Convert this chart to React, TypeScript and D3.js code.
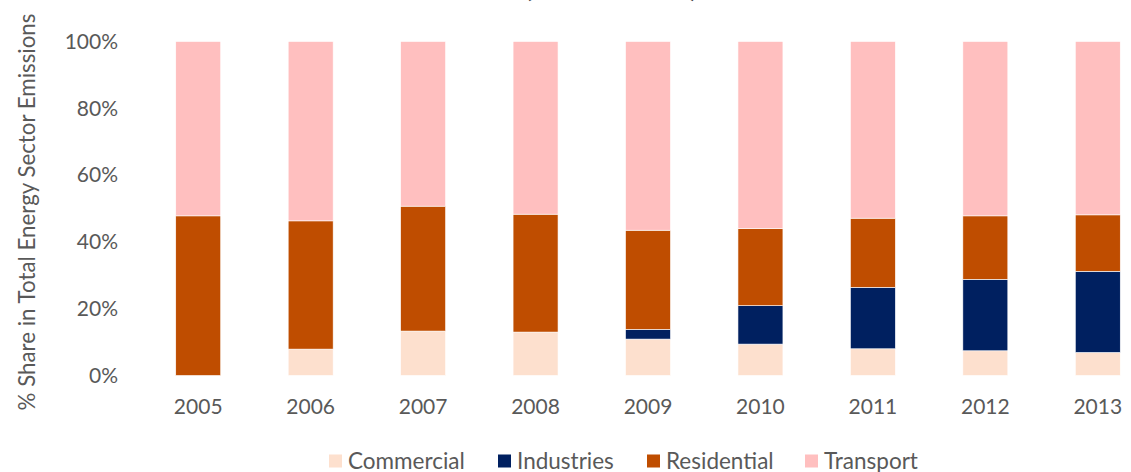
import * as d3 from "d3";
import {useEffect, useRef} from "react";

const years = ["2005", "2006", "2007", "2008", "2009", "2010", "2011", "2012", "2013"];
const sectors = ["Commercial", "Industries", "Residential", "Transport"];
const commercial = [0, 7.9, 13.3, 13.0, 10.9, 9.4, 8.0, 7.4, 6.9];
const industries = [0, 0, 0, 0, 2.9, 11.5, 18.4, 21.4, 24.3];
const residential = [47.8, 38.4, 37.4, 35.3, 29.7, 23.1, 20.7, 19.0, 16.9];
const transport = [52.2, 53.7, 49.3, 51.7, 56.5, 56.0, 52.9, 52.2, 51.9];
const yTicks = [0, 20, 40, 60, 80, 100];
const colors = ["#FDE0CE", "#002060", "#BF4D00", "#FFBFBF"];

const W = 1131, H = 472;
const font = "Lato, 'Open Sans', sans-serif";

export default function App() {
    const ref = useRef(null);

    useEffect(() => {
        const svg = d3.select(ref.current);
        svg.selectAll("*").remove();

        // build rows for stacking
        const rows = years.map((y, i) => ({
            year: y,
            Commercial: commercial[i],
            Industries: industries[i],
            Residential: residential[i],
            Transport: transport[i],
        }));
        const stack = d3.stack().keys(sectors)(rows);

        const x = d3.scaleBand().domain(years).range([142, 1154]).paddingInner(0.6).paddingOuter(0.3);
        const y = d3.scaleLinear().domain([0, 100]).range([375.5, 41.5]);
        const color = d3.scaleOrdinal().domain(sectors).range(colors);

        // title, cut off by the top edge like in the source
        svg.append("text")
            .attr("x", 611).attr("y", -3)
            .attr("text-anchor", "middle")
            .attr("font-family", font).attr("font-weight", "bold").attr("font-size", 26)
            .attr("fill", "#404040")
            .text("(2005 to 2013)");

        // bars
        svg.append("g").selectAll("g").data(stack).join("g")
            .attr("fill", d => color(d.key))
            .selectAll("rect").data(d => d).join("rect")
            .attr("x", d => x(d.data.year))
            .attr("width", x.bandwidth())
            .attr("y", d => y(d[1]))
            .attr("height", d => Math.max(0, y(d[0]) - y(d[1])))
            .attr("stroke", "#fff").attr("stroke-width", 0.6);

        // y tick labels
        svg.append("g").selectAll("text").data(yTicks).join("text")
            .attr("x", 118).attr("y", d => y(d))
            .attr("dy", "0.35em")
            .attr("text-anchor", "end")
            .attr("font-family", font).attr("font-size", 21).attr("fill", "#595959")
            .text(d => d + "%");

        // x labels
        svg.append("g").selectAll("text").data(years).join("text")
            .attr("x", d => x(d) + x.bandwidth() / 2).attr("y", 407)
            .attr("dy", "0.35em")
            .attr("text-anchor", "middle")
            .attr("font-family", font).attr("font-size", 21).attr("fill", "#595959")
            .text(d => d);

        // y axis title
        svg.append("text")
            .attr("transform", "translate(27,212) rotate(-90)")
            .attr("dy", "0.35em")
            .attr("text-anchor", "middle")
            .attr("font-family", font).attr("font-size", 22.3).attr("fill", "#595959")
            .text("% Share in Total Energy Sector Emissions");

        // legend
        const legendX = [329, 498, 647, 805];
        const lg = svg.append("g").selectAll("g").data(sectors).join("g")
            .attr("transform", (d, i) => `translate(${legendX[i]},461)`);
        lg.append("rect").attr("x", 0).attr("y", -6.5).attr("width", 13).attr("height", 13)
            .attr("fill", d => color(d));
        lg.append("text").attr("x", 19).attr("y", 0).attr("dy", "0.35em")
            .attr("font-family", font).attr("font-size", 22.5).attr("fill", "#595959")
            .text(d => d);
    }, []);

    return (
        <div style={{position: "absolute", left: 0, top: 0}}>
            <svg ref={ref} width={W} height={H} style={{display: "block", overflow: "hidden"}}></svg>
        </div>
    );
}
